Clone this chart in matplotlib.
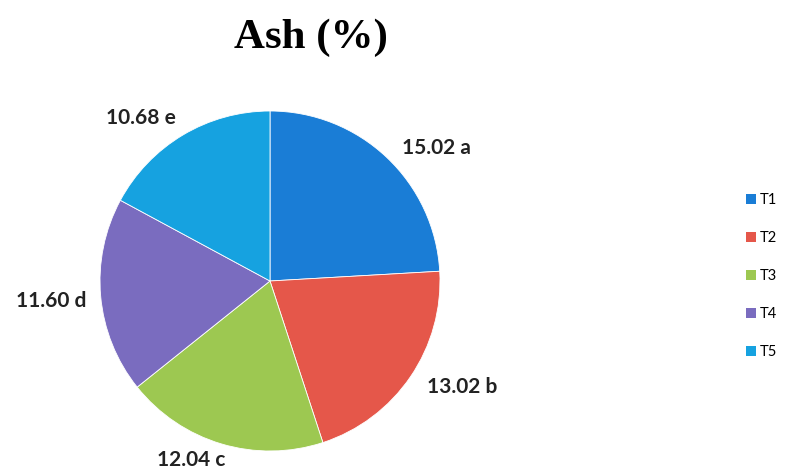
import numpy as np
import matplotlib.pyplot as plt
from matplotlib.patches import Patch

# ---------- data ----------
treatments = ["T1", "T2", "T3", "T4", "T5"]
ash_pct = [15.02, 13.02, 12.04, 11.60, 10.68]
letters = ["a", "b", "c", "d", "e"]
colors = ["#1a7dd6", "#e5574a", "#9dc851", "#7a6cbf", "#16a2e0"]
# --------------------------

W, H = 795, 474
fig = plt.figure(figsize=(W / 100, H / 100), dpi=100)

# pie axes: centre ~ (270, 281) px, radius ~170 px
cx, cy, r = 270, 281, 170
ax = fig.add_axes([(cx - r) / W, (H - cy - r) / H, 2 * r / W, 2 * r / H])

wedges, _ = ax.pie(ash_pct, colors=colors, startangle=90, counterclock=False,
                   radius=1.0, wedgeprops=dict(linewidth=0.6, edgecolor="white"))
ax.set_xlim(-1, 1)
ax.set_ylim(-1, 1)
ax.set_aspect("equal")
ax.axis("off")

# value labels outside each wedge (distance, angular nudge in degrees)
label_dist = [1.25, 1.29, 1.15, 1.29, 1.22]
label_nudge = [-8, 5.5, -7, 0, 7.5]
for w, v, lt, d, nd in zip(wedges, ash_pct, letters, label_dist, label_nudge):
    ang = np.deg2rad((w.theta1 + w.theta2) / 2 + nd)
    ax.text(d * np.cos(ang), d * np.sin(ang), f"{v:.2f} {lt}",
            ha="center", va="center", fontsize=15, fontweight="bold",
            family="Lato", color="#222222", clip_on=False)

fig.text(311 / W, 1 - 38 / H, "Ash (%)", ha="center", va="center",
         fontsize=31, fontweight="bold", family="Liberation Serif")

handles = [Patch(facecolor=c, edgecolor="none") for c in colors]
fig.legend(handles, treatments, loc="center left",
           bbox_to_anchor=(733 / W, 1 - 276 / H), frameon=False,
           handlelength=0.65, handleheight=0.65, handletextpad=0.3,
           labelspacing=1.65, prop=dict(family="Lato", size=10.5))

fig.savefig("out.png", dpi=100, facecolor="white")
